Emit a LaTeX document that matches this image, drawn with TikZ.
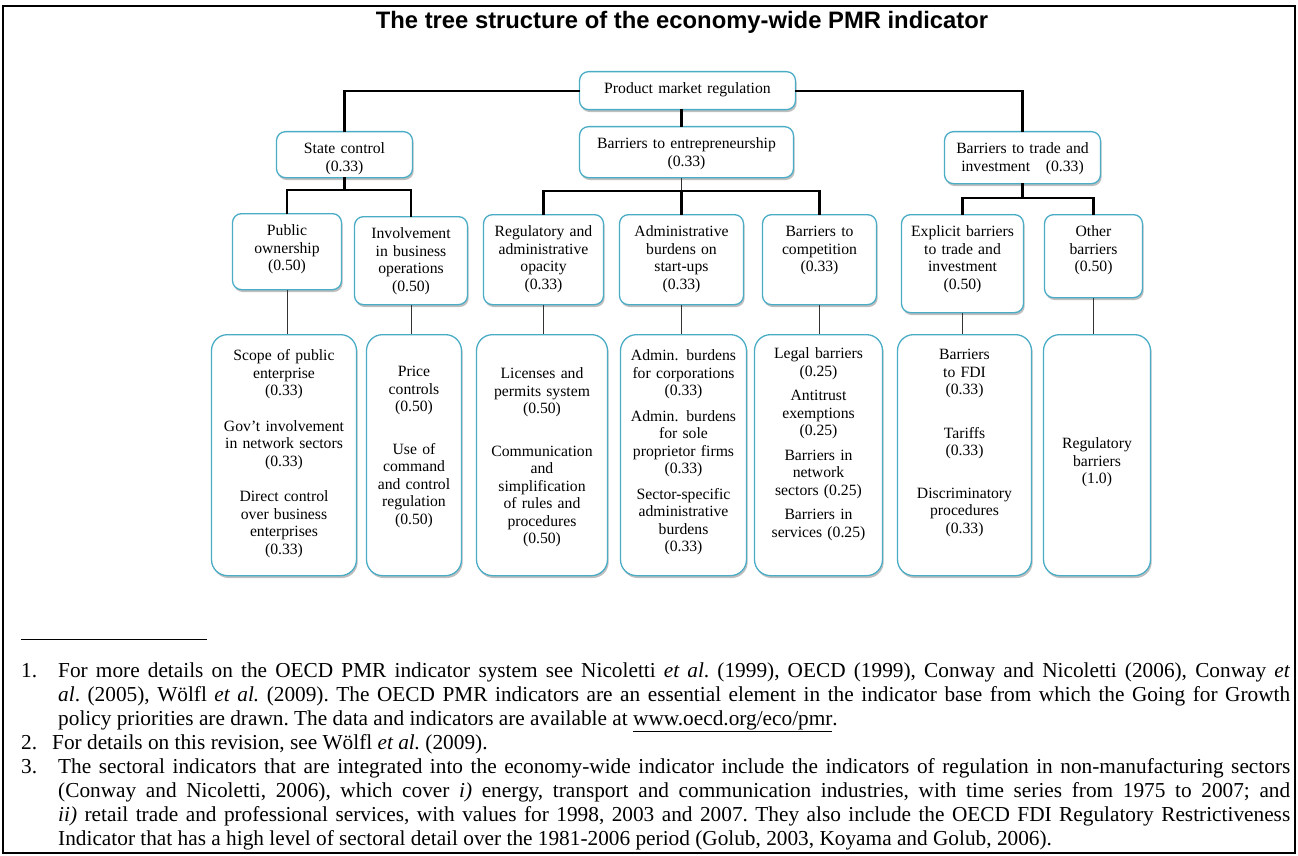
\documentclass[tikz,border=0pt]{standalone}
\usepackage{fontspec}
\setmainfont{Liberation Serif}
\newfontfamily\titlefont{Liberation Sans}
\usepackage{xcolor}
\usepackage{tikz}
\usetikzlibrary{shadows}
\definecolor{boxblue}{RGB}{75,172,198}
\newcommand{\boxfont}{\fontsize{15.7pt}{17.5pt}\selectfont}
\newcommand{\notefont}{\fontsize{21.3pt}{24pt}\selectfont\frenchspacing}
\tikzset{
  groupbox/.style={draw=boxblue,fill=white,line width=1.3pt,rounded corners=9pt,
    align=center,anchor=north,inner xsep=4pt,inner ysep=8pt,text height=14pt,
    font=\boxfont,drop shadow={shadow xshift=1.2pt,shadow yshift=-2.4pt,
    fill=black!50,opacity=0.5}},
  leafbox/.style={groupbox,rounded corners=16pt,inner ysep=4pt},
  trunkline/.style={line width=2.2pt,line cap=rect},
  twigline/.style={line width=1pt,draw=black!80},
  titletext/.style={anchor=base,inner sep=0pt,
    font=\titlefont\bfseries\fontsize{23.8pt}{28pt}\selectfont},
  notenum/.style={anchor=base west,inner sep=0pt,font=\notefont},
  notetext/.style={anchor=base west,inner sep=0pt,text width=1232pt,
    align=justify,font=\notefont}
}

\begin{document}
\begin{tikzpicture}[x=1pt,y=-1pt]
  \useasboundingbox (0,0) rectangle (1298,856);
  \draw[line width=2.5pt] (3,6) rectangle (1295,853);
  \node[titletext] (title) at (682,29)
    {The tree structure of the economy-wide PMR indicator};

  % top of the tree
  \node[groupbox,text width=208pt,text depth=8pt] (root) at (687.5,71)
    {Product market regulation};
  \node[groupbox,text width=128pt,text depth=16pt] (state) at (344.5,131)
    {State control\\(0.33)};
  \node[groupbox,text width=206pt,text depth=21pt] (bte) at (686.5,126)
    {Barriers to entrepreneurship\\(0.33)};
  \node[groupbox,text width=148pt,text depth=22pt] (trade) at (1022.5,131)
    {Barriers to trade and\\investment~~~(0.33)};

  % second level
  \node[groupbox,text width=101pt,text depth=46pt] (public) at (287,213)
    {Public\\ownership\\(0.50)};
  \node[groupbox,text width=105pt,text depth=58pt] (involve) at (411,216)
    {Involvement\\in business\\operations\\(0.50)};
  \node[groupbox,text width=112pt,text depth=60pt] (opacity) at (543.5,214)
    {Regulatory and\\administrative\\opacity\\(0.33)};
  \node[groupbox,text width=116pt,text depth=60pt] (startup) at (681.5,214)
    {Administrative\\burdens on\\start-ups\\(0.33)};
  \node[groupbox,text width=106pt,text depth=60pt] (compet) at (819.5,214)
    {Barriers to\\competition\\(0.33)};
  \node[groupbox,text width=114pt,text depth=68pt] (explicit) at (962.5,214)
    {Explicit barriers\\to trade and\\investment\\(0.50)};
  \node[groupbox,text width=90pt,text depth=53pt] (other) at (1093.5,214)
    {Other\\barriers\\(0.50)};

  % low-level indicators
  \node[leafbox,text width=137pt,text height=22pt,text depth=211pt] (scope) at (284,334)
    {Scope of public\\enterprise\\(0.33)\\[18pt]Gov’t involvement\\in network sectors\\(0.33)\\[18pt]
     Direct control\\over business\\enterprises\\(0.33)};
  \node[leafbox,text width=87pt,text height=38pt,text depth=195pt] (price) at (414,334)
    {Price\\controls\\(0.50)\\[25pt]Use of\\command\\and control\\regulation\\(0.50)};
  \node[leafbox,text width=123pt,text height=40pt,text depth=193pt] (licence) at (542,334)
    {Licenses and\\permits system\\(0.50)\\[25pt]Communication\\and\\simplification\\
     of rules and\\procedures\\(0.50)};
  \node[leafbox,text width=118pt,text height=22pt,text depth=211pt] (adminlow) at (683.5,334)
    {Admin. burdens\\for corporations\\(0.33)\\[8pt]Admin. burdens\\for sole\\proprietor firms\\(0.33)\\[8pt]
     Sector-specific\\administrative\\burdens\\(0.33)};
  \node[leafbox,text width=120pt,text height=20pt,text depth=213pt] (complow) at (818.5,334)
    {Legal barriers\\(0.25)\\[7pt]Antitrust\\exemptions\\(0.25)\\[7pt]Barriers in\\network\\
     sectors (0.25)\\[7pt]Barriers in\\services (0.25)};
  \node[leafbox,text width=126pt,text height=21pt,text depth=212pt] (fdi) at (964.5,334)
    {Barriers\\to FDI\\(0.33)\\[26pt]Tariffs\\(0.33)\\[25pt]Discriminatory\\procedures\\(0.33)};
  \node[leafbox,text width=99pt,text height=110pt,text depth=123pt] (regbar) at (1097,334)
    {Regulatory\\barriers\\(1.0)};

  % connectors
  \draw[trunkline] (root.west) -| (state.north);
  \draw[trunkline] (root.east) -| (trade.north);
  \draw[trunkline] (root.south -| startup.north) -- (bte.north -| startup.north);
  \draw[twigline] (bte.south -| startup.north) -- ++(0,13) coordinate (bfork);
  \draw[trunkline] (opacity.north) |- (bfork) -| (compet.north);
  \draw[trunkline] (bfork) -- (startup.north);
  \draw[trunkline] (state.south) -- ++(0,12) coordinate (sfork);
  \draw[trunkline] (public.north) |- (sfork) -| (involve.north);
  \draw[trunkline] (trade.south) -- ++(0,14) coordinate (tfork);
  \draw[trunkline] (explicit.north) |- (tfork) -| (other.north);
  \foreach \upper/\lower in {public/scope,involve/price,opacity/licence,
      startup/adminlow,compet/complow,explicit/fdi,other/regbar}
    \draw[twigline] (\upper.south) -- (\upper.south |- \lower.north);

  % notes
  \draw[line width=0.8pt] (21,639) -- (207,639);
  \node[notenum] (num1) at (21,677) {1.};
  \node[notetext] (note1) at (58,677) {\sloppy
    For more details on the OECD PMR indicator system see Nicoletti \textit{et al}. (1999),
    OECD (1999), Conway and Nicoletti (2006), Conway \textit{et}\linebreak \textit{al}. (2005),
    Wölfl \textit{et al.} (2009). The OECD PMR indicators are an essential element in the
    indicator base from which the Going for Growth\linebreak policy priorities are drawn. The
    data and indicators are available at \underline{www.oecd.org/eco/pmr}.};
  \node[notenum] (num2) at (21,749) {2.};
  \node[notetext,text width=1238pt] (note2) at (52,749)
    {For details on this revision, see Wölfl \textit{et al.} (2009).};
  \node[notenum] (num3) at (21,773) {3.};
  \node[notetext] (note3) at (58,773) {\sloppy\exhyphenpenalty=10000
    The sectoral indicators that are integrated into the economy-wide indicator include the
    indicators of regulation in non-manufacturing sectors\linebreak (Conway and Nicoletti,
    2006), which cover \textit{i)} energy, transport and communication industries, with time
    series from 1975 to 2007; and\linebreak \textit{ii)} retail trade and professional
    services, with values for 1998, 2003 and 2007. They also include the OECD FDI Regulatory
    Restrictiveness\linebreak Indicator that has a high level of sectoral detail over the
    1981-2006 period (Golub, 2003, Koyama and Golub, 2006).};
\end{tikzpicture}
\end{document}
